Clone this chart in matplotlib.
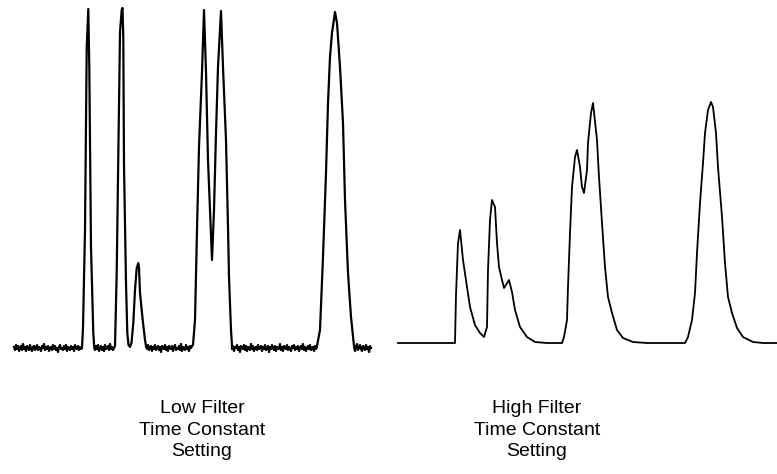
import numpy as np
import matplotlib.pyplot as plt

W, H = 777, 474

# ---- low filter trace (time, signal above baseline) ----
# baseline noise (one sample per time unit)
noise_a = [1, -2, 3, -1, 2, -3, 0, 2, -2, 4, -1, 1, -3, 2, 0, -2, 3, -1, -3, 1, 2, -2, 0, 3,
           -2, 1, -1, -3, 2, 0, 4, -2, 1, -1, 2, -3, 0, 1, -2, 3, -1, 2, -2, 0, -4, 1, 3, -1,
           0, -2, 2, -1, 3, -3, 1, 0, -2, 2, -1, 1, -3, 3, 0, -1, 2, -2, 1, -1, 0]
noise_b = [-2, 2, -1, 3, -3, 0, 2, -2, 1, -3, 3, -1, 0, 2, -2, 4, -1, 1, -2, 0]
noise_c = [2, -1, 3, -2, 0, 2, -3, 1, -1, 3, -2, 0, 2, -2, 1, -4, 2, 0, -1, 3, -2, 1, -3, 2,
           0, -1, 2, -3, 1, 3, -2, 0, -1, 2, -2, 4, -3, 1, 0, -2, 3, -1, 1, -3, 2, 0, 2]
noise_d = [-1, 2, -3, 1, 0, 3, -2, 1, -4, 2, 0, -1, 3, -2, 2, -3, 1, 0, -2, 4, -1, 2, -3, 0,
           1, -2, 3, -1, 0, 2, -3, 1, -1, 3, -2, 0, 2, -4, 1, -1, 3, 0, -2, 2, -3, 1, 0, -1,
           4, -2, 1, -3, 2, 0, -1, 3, -2, 1, -1, -3, 2, 0, 3, -2, 1, -1, 2, -3, 0, 2, -1, 4,
           -2, 1, -3, 0, 2, -1, 3, -2, 0, 1, -3, 2, -1, 1]
noise_e = [2, -3, 1, 4, -2, 0, 3, -1, -3, 2, 0, -2, 3, -1, 1, -4, 2, 0]
noise_start = [14, 95, 146, 232, 354]

peak1_t = [83, 85, 86.7, 88.3, 89.3, 91, 93.3, 94.3]
peak1_s = [20, 118, 300, 339, 281, 101, 15, 0]
peak2_t = [115, 116.7, 118.3, 120, 121.7, 122.5, 123.3, 124, 126, 127.3, 128.5, 130]
peak2_s = [2, 75, 193, 316, 338, 340, 310, 183, 65, 15, 3, 1]
peak3_t = [131.5, 133.3, 135, 136.7, 138.3, 139, 140, 142.7, 145]
peak3_s = [5, 25, 58, 80, 85, 80, 55, 28, 8]
peak4_t = [193, 195, 197, 199, 202, 204, 206, 208, 211, 212, 214, 216, 218, 221, 223, 226,
           228, 229, 231, 232]
peak4_s = [3, 28, 118, 201, 276, 338, 276, 188, 115, 88, 138, 215, 281, 337, 281, 208,
           121, 71, 18, 2]
peak5_t = [317, 320, 323, 326, 328, 330, 332, 335, 337, 340, 343, 345, 348, 351, 353]
peak5_s = [2, 18, 91, 175, 245, 291, 315, 336, 325, 281, 225, 148, 75, 31, 11]

# ---- high filter trace ----
hi_t = [398, 453, 455, 456, 458, 460, 463, 467, 470, 475, 480, 484, 487, 488, 490, 492,
        495, 497, 499, 502, 504, 509, 512, 515, 520, 527, 535, 547, 562, 564, 567, 568,
        570, 572, 575, 577, 580, 582, 584, 587, 588, 591, 593, 597, 599, 602, 605, 608,
        612, 617, 623, 633, 647, 685, 688, 692, 695, 697, 700, 703, 705, 708, 711, 713,
        716, 718, 722, 725, 728, 732, 737, 743, 753, 763, 777]
hi_s = [0, 0, 0, 48, 100, 113, 83, 56, 36, 18, 10, 6, 16, 73, 123, 143,
        136, 100, 76, 63, 55, 63, 51, 33, 16, 6, 1, 0, 0, 6, 23, 56,
        110, 156, 186, 193, 176, 156, 150, 173, 200, 230, 240, 203, 166, 120, 76, 46,
        30, 13, 5, 1, 0, 0, 6, 23, 50, 90, 140, 180, 210, 233, 241, 236,
        210, 176, 126, 80, 46, 30, 15, 6, 1, 0, 0]

labels_low = ["Low Filter", "Time Constant", "Setting"]
labels_high = ["High Filter", "Time Constant", "Setting"]

# assemble the low filter trace in time order
noises = [noise_a, noise_b, noise_c, noise_d, noise_e]
peaks = [(peak1_t, peak1_s), (peak2_t + peak3_t, peak2_s + peak3_s),
         (peak4_t, peak4_s), (peak5_t, peak5_s), ([], [])]
lo_t, lo_s = [], []
for start, nz, (pt, ps) in zip(noise_start, noises, peaks):
    lo_t += list(start + np.arange(len(nz)))
    lo_s += nz
    lo_t += pt
    lo_s += ps

fig = plt.figure(figsize=(W / 100, H / 100), dpi=100)
ax = fig.add_axes([0, 0, 1, 1])
ax.set_xlim(0, W)
# baselines sit at 348 px (left) and 343 px (right) from the top
ax.set_ylim(-(H - 348), 348)
ax.axis("off")

ax.plot(lo_t, lo_s, color="black", lw=1.6)
ax.plot(hi_t, np.array(hi_s) + (348 - 343), color="black", lw=1.3)

fam = ['Liberation Sans', 'DejaVu Sans']
base_y = [413, 435, 456]
for i in range(3):
    fig.text(202 / W, 1 - base_y[i] / H, labels_low[i], ha="center", va="baseline",
             fontsize=14, family=fam)
    fig.text(537 / W, 1 - base_y[i] / H, labels_high[i], ha="center", va="baseline",
             fontsize=14, family=fam)

fig.savefig("out.png", dpi=100)
